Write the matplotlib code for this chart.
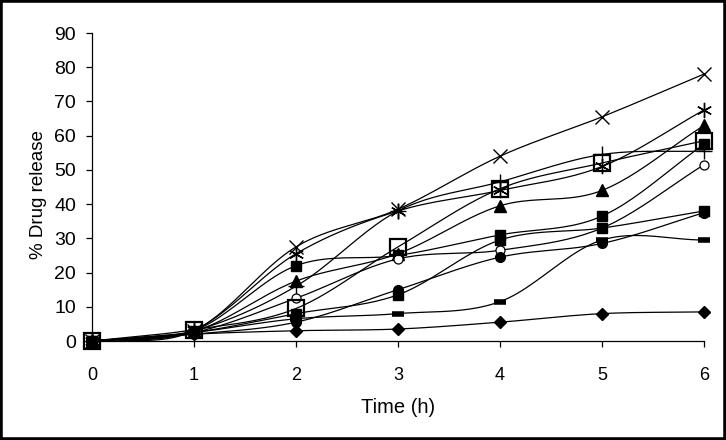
import matplotlib
matplotlib.use("Agg")
import matplotlib.pyplot as plt
import numpy as np
from matplotlib.patches import Rectangle

plt.rcParams["font.family"] = ["Liberation Sans", "DejaVu Sans"]

time_h = [0, 1, 2, 3, 4, 5, 6]

cross = [0, 3.0, 27.5, 38.5, 54.0, 65.5, 78.0]
star = [0, 3.2, 25.5, 38.0, 44.0, 51.0, 67.5]
triangle = [0, 2.8, 17.5, 25.5, 39.5, 44.0, 63.0]
open_square = [0, 3.3, 9.5, 27.5, 44.5, 52.0, 58.5]
plus = [0, 3.0, 16.0, 38.0, 46.5, 54.5, 55.5]
square_a = [0, 3.0, 22.0, 25.0, 31.0, 36.5, 57.5]
open_circle = [0, 2.5, 12.5, 24.0, 26.5, 33.0, 51.5]
square_b = [0, 2.5, 8.0, 13.5, 29.5, 33.0, 38.0]
circle = [0, 2.0, 5.5, 15.0, 24.5, 28.5, 37.5]
dash = [0, 2.5, 6.5, 8.0, 11.5, 29.5, 29.5]
diamond = [0, 2.0, 3.0, 3.5, 5.5, 8.0, 8.5]

series = [
    (cross, dict(marker="x", ms=10, mew=1.0)),
    (star, dict(marker=(6, 2, 0), ms=11, mew=1.0)),
    (triangle, dict(marker="^", ms=8)),
    (plus, dict(marker="+", ms=11, mew=1.0)),
    (square_a, dict(marker="s", ms=7.5)),
    (open_circle, dict(marker="o", ms=6.5, mfc="white", mew=0.9)),
    (square_b, dict(marker="s", ms=7.5)),
    (circle, dict(marker="o", ms=7)),
    (dash, dict(marker="_", ms=9, mew=4)),
    (diamond, dict(marker="D", ms=6.5)),
    (open_square, dict(marker="s", ms=12, mfc="none", mew=1.6)),
]


def smooth(x, y, n=24):
    # catmull-rom style curve like the spreadsheet "smoothed line"
    x = np.asarray(x, float)
    y = np.asarray(y, float)
    px = np.concatenate([[2 * x[0] - x[1]], x, [2 * x[-1] - x[-2]]])
    py = np.concatenate([[2 * y[0] - y[1]], y, [2 * y[-1] - y[-2]]])
    t = np.linspace(0, 1, n)
    xs, ys = [], []
    for i in range(1, len(px) - 2):
        for p, out in ((px, xs), (py, ys)):
            p0, p1, p2, p3 = p[i - 1], p[i], p[i + 1], p[i + 2]
            out.append(0.5 * ((2 * p1) + (-p0 + p2) * t
                              + (2 * p0 - 5 * p1 + 4 * p2 - p3) * t ** 2
                              + (-p0 + 3 * p1 - 3 * p2 + p3) * t ** 3))
    return np.concatenate(xs), np.concatenate(ys)


fig = plt.figure(figsize=(7.26, 4.40), dpi=100)
ax = fig.add_axes([92 / 726, 1 - 341 / 440, (704 - 92) / 726, (341 - 33) / 440])

for values, style in series:
    sx, sy = smooth(time_h, values)
    ax.plot(sx, sy, color="black", lw=0.9, zorder=2)
    ax.plot(time_h, values, ls="none", color="black", mec="black", zorder=3, clip_on=False, **style)

ax.set_xlim(0, 6)
ax.set_ylim(0, 90)
ax.set_xticks(range(0, 7))
ax.set_yticks(range(0, 91, 10))
ax.spines["top"].set_visible(False)
ax.spines["right"].set_visible(False)
for s in ("left", "bottom"):
    ax.spines[s].set_linewidth(0.9)
ax.tick_params(axis="both", direction="out", length=4.5, width=0.9, colors="black")
ax.tick_params(axis="x", pad=14, labelsize=13)
ax.tick_params(axis="y", pad=7, labelsize=14)

ax.set_xlabel("Time (h)", fontsize=14.5)
ax.xaxis.set_label_coords(0.50, -0.185)
ax.set_ylabel("% Drug release", fontsize=13.5)
ax.yaxis.set_label_coords(-0.073, 0.477)

fig.patches.append(Rectangle((0, 0), 1, 1, transform=fig.transFigure, fill=False,
                             edgecolor="black", lw=4))

fig.savefig("out.png", dpi=100)
